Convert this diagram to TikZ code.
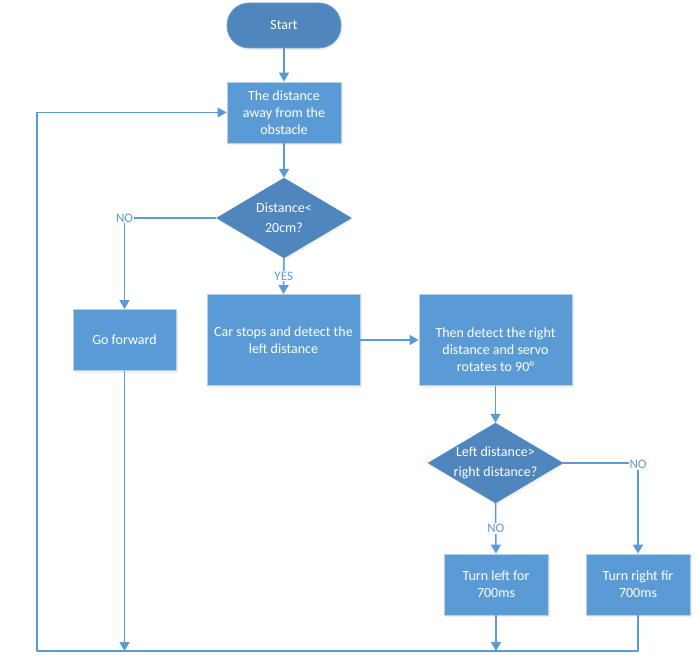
\documentclass[tikz,border=0pt]{standalone}
\usepackage{fontspec}
\setmainfont{Carlito}
\usepackage{xcolor}
\usepackage{tikz}
\usetikzlibrary{arrows.meta,shapes.geometric,shadows}
\definecolor{boxblue}{HTML}{5B9BD5}
\definecolor{deepblue}{HTML}{4F86BD}
\definecolor{rim}{HTML}{B9CDE5}
\definecolor{linkblue}{HTML}{5B9BD5}
\tikzset{
  fig/.style={line join=round,>={Triangle[width=10pt,length=9pt]}},
  base/.style={text=white,align=center,font=\fontsize{14}{16.7}\selectfont,
    drop shadow={opacity=0.12,shadow xshift=1.5pt,shadow yshift=-2pt}},
  stepbox/.style={base,rectangle,fill=boxblue,draw=rim,line width=0.8pt,inner sep=2pt},
  termbox/.style={base,rectangle,rounded corners=22pt,fill=deepblue,draw=deepblue!80!white,line width=0.8pt,
    minimum width=114pt,minimum height=45pt},
  testbox/.style={base,diamond,aspect=1.69,inner sep=-3pt,fill=deepblue,draw=deepblue,
    font=\fontsize{14}{20}\selectfont,minimum width=135pt,minimum height=80pt},
  link/.style={draw=linkblue,line width=1.5pt},
  tag/.style={fill=white,text=linkblue,inner sep=1pt,font=\fontsize{13}{15}\selectfont}
}

\begin{document}
\begin{tikzpicture}[fig,x=1pt,y=-1pt]
  \useasboundingbox (0,0) rectangle (698,668);
  % nodes
  \node[termbox] (start) at (284,25.5) {Start};
  \node[stepbox,minimum width=114pt,minimum height=61pt] (dist) at (284,112.5) {The distance\\away from the\\obstacle};
  \node[testbox] (near) at (284,218) {Distance<\\20cm?};
  \node[stepbox,minimum width=103pt,minimum height=61pt] (fwd) at (124.5,340) {Go forward};
  \node[stepbox,minimum width=153pt,minimum height=91pt] (stop) at (283.5,340) {Car stops and detect the\\left distance};
  \node[stepbox,minimum width=153pt,minimum height=91pt] (scan) at (495.5,340) {\mbox{}\\[12pt]Then detect the right\\distance and servo\\rotates to 90°};
  \node[testbox] (cmp) at (495.5,463) {Left distance>\\right distance?};
  \node[stepbox,minimum width=104pt,minimum height=61pt] (lturn) at (496,584.5) {Turn left for\\700ms};
  \node[stepbox,minimum width=104pt,minimum height=61pt] (rturn) at (638,584.5) {Turn right fir\\700ms};
  \coordinate (loop) at (37,651);
  % connectors
  \draw[link,->] (start) -- (dist);
  \draw[link,->] (dist) -- (near);
  \draw[link,->] (near.west) -| (fwd.north) node[tag,pos=0.5] {NO};
  \draw[link,->] (near.south) -- (stop.north) node[tag,midway] {YES};
  \draw[link,->] (stop) -- (scan);
  \draw[link,->] (scan.south) -- (cmp.north);
  \draw[link,->] (cmp.south) -- (lturn.north) node[tag,midway] {NO};
  \draw[link,->] (cmp.east) -| (rturn.north) node[tag,pos=0.51] {NO};
  \draw[link,->] (fwd.south) -- (fwd.south |- loop);
  \draw[link,->] (lturn.south) -- (lturn.south |- loop);
  \draw[link,line width=1.2pt,->] (rturn.south) |- (loop) |- (dist.west);
\end{tikzpicture}
\end{document}
